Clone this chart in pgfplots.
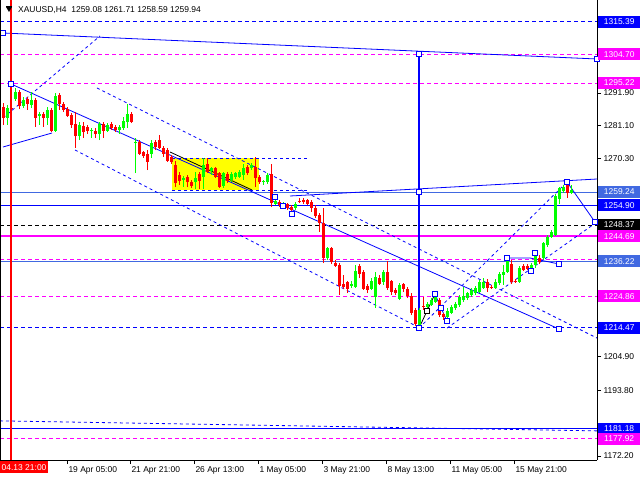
\documentclass[border=0pt]{standalone}
\usepackage{pgfplots}
\pgfplotsset{compat=1.18}
\usepackage{pgfplotstable}
\usepackage{fontspec}
\setmainfont{Liberation Sans}
\definecolor{mtgreen}{RGB}{0,255,0}
\definecolor{mtred}{RGB}{255,0,0}
\definecolor{mtblue}{RGB}{0,0,255}
\definecolor{mtmag}{RGB}{255,0,255}
\definecolor{mtroyal}{RGB}{65,105,225}
\definecolor{mtyellow}{RGB}{255,255,0}

\pgfplotstableread{
x o h l c
7 1283.7 1287.9 1281.4 1286.9
15 1289.9 1293.6 1289.3 1292.2
23 1287.6 1290.6 1286.9 1289.6
31 1287.9 1292.2 1286.9 1289.6
39 1284.3 1285.6 1281.4 1285.0
47 1283.7 1287.3 1281.4 1286.3
55 1279.4 1291.9 1279.0 1290.9
79 1277.7 1282.3 1276.4 1281.4
91 1279.4 1280.4 1277.1 1279.7
99 1278.4 1282.3 1276.4 1281.7
107 1279.4 1282.0 1279.0 1281.4
119 1279.7 1281.4 1278.4 1280.7
123 1280.4 1284.0 1279.7 1282.7
127 1282.3 1288.3 1280.4 1285.0
135 1275.4 1277.1 1265.5 1275.7
151 1271.8 1276.4 1270.5 1275.4
183 1263.2 1264.5 1260.9 1263.9
195 1262.6 1265.8 1260.2 1263.9
203 1264.2 1270.5 1260.2 1268.2
211 1266.2 1267.5 1264.9 1267.2
223 1261.2 1265.8 1260.6 1265.5
231 1263.2 1265.8 1262.6 1265.2
235 1264.2 1265.8 1263.6 1265.5
239 1264.2 1266.5 1263.9 1265.8
243 1264.9 1268.5 1263.2 1267.2
251 1267.2 1268.8 1266.5 1268.2
263 1262.6 1263.2 1261.6 1262.9
267 1262.6 1265.5 1261.9 1264.9
275 1255.3 1256.9 1254.9 1256.3
283 1254.3 1256.0 1254.0 1255.3
295 1254.0 1256.0 1253.3 1255.3
327 1237.5 1241.1 1236.8 1240.8
351 1228.3 1229.9 1227.6 1228.9
355 1227.9 1235.2 1227.6 1233.2
371 1227.3 1230.9 1227.0 1229.9
375 1224.6 1232.9 1221.0 1231.2
383 1229.6 1233.5 1228.6 1232.9
399 1224.0 1229.3 1223.6 1228.6
419 1215.4 1221.0 1214.4 1220.4
427 1221.4 1223.0 1220.7 1222.3
431 1222.0 1224.3 1221.7 1223.7
435 1223.0 1225.9 1222.7 1224.6
447 1218.1 1221.0 1217.4 1220.0
451 1219.4 1222.0 1219.0 1221.4
455 1221.0 1223.0 1220.4 1222.3
459 1222.0 1225.3 1221.4 1224.6
463 1223.7 1227.9 1223.0 1225.0
467 1224.3 1226.3 1223.7 1225.9
471 1225.3 1227.6 1224.6 1227.0
475 1226.0 1228.3 1225.3 1227.6
479 1226.3 1230.2 1226.0 1229.6
483 1227.6 1230.9 1227.3 1229.6
495 1227.6 1230.6 1227.3 1229.6
499 1229.3 1232.9 1228.6 1232.2
503 1231.9 1235.2 1228.6 1232.9
507 1232.9 1237.5 1232.6 1236.5
519 1229.6 1234.9 1229.3 1234.2
531 1232.9 1235.8 1232.6 1235.2
535 1235.2 1239.5 1234.2 1238.5
543 1237.5 1242.8 1236.8 1242.4
547 1241.8 1245.1 1241.1 1244.4
551 1244.4 1246.7 1244.1 1246.1
555 1245.1 1258.6 1244.8 1257.9
559 1256.9 1260.9 1255.3 1260.6
563 1259.6 1261.6 1258.9 1260.9
571 1259.08 1261.71 1258.59 1259.94
}\bull

\pgfplotstableread{
x o h l c
3 1287.3 1288.6 1281.4 1283.7
11 1286.9 1287.9 1285.6 1286.6
19 1292.2 1292.9 1286.6 1287.6
27 1289.9 1290.6 1286.3 1288.3
35 1289.6 1290.3 1280.7 1283.7
43 1285.0 1285.6 1280.7 1283.7
51 1286.3 1286.9 1279.0 1279.4
59 1291.2 1291.9 1286.3 1288.3
63 1288.3 1288.9 1285.6 1286.3
67 1286.6 1287.3 1284.0 1284.3
71 1284.7 1285.3 1280.4 1281.4
75 1281.7 1285.6 1273.8 1277.7
83 1281.0 1282.3 1277.1 1279.0
87 1280.7 1281.4 1278.4 1279.4
95 1279.4 1280.4 1277.1 1278.4
103 1281.7 1282.3 1277.1 1279.4
111 1281.7 1282.3 1279.7 1280.4
115 1280.7 1281.4 1279.0 1279.7
131 1285.0 1285.6 1282.0 1282.3
139 1275.7 1276.4 1271.5 1271.8
143 1272.5 1272.8 1270.5 1271.1
147 1271.8 1273.1 1266.5 1269.2
155 1275.7 1276.4 1273.1 1274.1
159 1276.4 1278.1 1273.4 1273.8
163 1273.8 1274.4 1270.8 1271.8
167 1273.1 1273.8 1269.2 1269.5
171 1270.8 1271.5 1268.5 1269.2
175 1268.2 1269.5 1260.9 1262.2
179 1264.9 1265.8 1261.6 1262.9
187 1264.2 1264.9 1260.9 1262.6
191 1262.6 1263.2 1260.6 1261.2
199 1265.2 1265.8 1260.2 1262.9
207 1268.5 1270.5 1265.5 1265.8
215 1267.2 1267.5 1263.9 1264.2
219 1265.5 1265.8 1260.6 1260.9
227 1265.2 1265.8 1262.2 1262.9
247 1267.5 1268.2 1264.9 1265.5
255 1267.5 1270.8 1260.9 1263.9
259 1264.2 1264.9 1261.9 1262.6
271 1265.2 1268.5 1254.3 1255.6
279 1256.0 1256.6 1254.3 1254.9
287 1255.3 1255.6 1253.3 1254.0
291 1254.3 1254.9 1252.3 1253.3
299 1256.3 1257.3 1255.6 1256.0
303 1256.6 1257.3 1255.3 1256.0
307 1256.6 1256.9 1254.9 1255.3
311 1256.0 1256.6 1252.7 1254.0
315 1254.0 1254.9 1250.7 1251.3
319 1251.7 1252.3 1246.1 1249.0
323 1249.0 1254.0 1235.8 1237.5
331 1240.8 1241.1 1235.5 1236.2
335 1235.8 1236.8 1234.5 1234.9
339 1235.2 1235.8 1225.3 1228.3
343 1228.9 1231.9 1227.3 1227.9
347 1229.6 1229.9 1225.9 1227.3
359 1234.9 1235.5 1230.9 1232.2
363 1232.9 1233.5 1227.0 1227.3
367 1228.3 1228.9 1225.9 1227.0
379 1230.9 1231.9 1228.6 1228.9
387 1232.9 1236.5 1227.0 1227.6
391 1229.9 1230.2 1225.3 1226.3
395 1227.0 1227.6 1225.3 1226.0
403 1228.9 1229.3 1226.3 1227.3
407 1227.3 1227.9 1224.3 1225.0
411 1225.0 1225.9 1218.7 1219.4
415 1220.4 1221.0 1215.1 1215.7
423 1221.7 1224.6 1220.4 1221.4
439 1223.7 1224.3 1217.9 1218.7
443 1219.0 1219.4 1217.1 1218.1
487 1229.6 1230.6 1226.3 1227.6
491 1227.9 1228.6 1227.3 1227.6
511 1235.5 1236.8 1228.9 1229.6
515 1229.9 1230.6 1229.3 1229.6
523 1234.9 1235.5 1233.2 1233.5
527 1234.9 1235.5 1233.5 1233.9
539 1237.5 1238.5 1235.5 1236.2
567 1261.6 1262.9 1257.3 1258.9
}\bear

\tikzset{lbl/.style={anchor=west, inner sep=0pt, minimum width=42bp, minimum height=12bp, text=white, font=\fontsize{8.5}{10}\selectfont}}

\begin{document}
\begin{tikzpicture}
\path[use as bounding box] (0bp,0bp) rectangle (640bp,480bp);
\begin{axis}[
  at={(0bp,20bp)}, anchor=south west,
  width=597bp, height=460bp, scale only axis,
  xmin=0, xmax=597, ymin=1170.9, ymax=1322.56,
  axis x line*=bottom, axis y line*=right,
  axis line style={-, black, line width=0.8bp},
  tick align=outside, major tick length=4bp,
  tick style={black, line width=0.8bp},
  xtick={67,130,194,258,322,386,450,514},
  xticklabels={19 Apr 05:00, 21 Apr 21:00, 26 Apr 13:00, 1 May 05:00, 3 May 21:00, 8 May 13:00, 11 May 05:00, 15 May 21:00},
  xticklabel style={anchor=north west, xshift=-2bp, yshift=1bp, font=\fontsize{8.5}{10}\selectfont},
  ytick={1172.2,1183.0,1193.8,1204.9,1215.7,1226.5,1237.3,1248.7,1259.5,1270.3,1281.1,1291.9,1303.0,1313.6},
  yticklabels={1172.20,,1193.80,1204.90,,,,,,1270.30,1281.10,1291.90,,},
  yticklabel style={font=\fontsize{8.5}{10}\selectfont, xshift=-1bp},
  clip=true,
]
% yellow rectangle
\fill[mtyellow] (axis cs:172,1270.47) rectangle (axis cs:259,1259.92);

% horizontal levels
\addplot[mtblue, dash pattern=on 4bp off 3bp, line width=0.8bp] coordinates {(0,1315.39)(597,1315.39)};
\addplot[mtmag, dash pattern=on 4bp off 3bp, line width=0.8bp] coordinates {(0,1304.70)(597,1304.70)};
\addplot[mtmag, dash pattern=on 4bp off 3bp, line width=0.8bp] coordinates {(0,1295.22)(597,1295.22)};
\addplot[mtroyal, line width=0.8bp] coordinates {(0,1259.24)(597,1259.24)};
\addplot[mtblue, line width=0.8bp] coordinates {(0,1254.90)(597,1254.90)};
\addplot[black, dash pattern=on 4bp off 3bp, line width=0.8bp] coordinates {(0,1248.37)(597,1248.37)};
\addplot[mtmag, line width=2.5bp] coordinates {(0,1244.69)(597,1244.69)};
\addplot[mtmag, dash pattern=on 4bp off 3bp, line width=0.8bp] coordinates {(0,1237.2)(597,1237.2)};
\addplot[mtroyal, line width=0.8bp] coordinates {(0,1236.22)(597,1236.22)};
\addplot[mtmag, dash pattern=on 4bp off 3bp, line width=0.8bp] coordinates {(0,1224.86)(597,1224.86)};
\addplot[mtblue, dash pattern=on 4bp off 3bp, line width=0.8bp] coordinates {(0,1214.47)(597,1214.47)};
\addplot[mtblue, line width=0.8bp] coordinates {(0,1181.18)(597,1181.18)};
\addplot[mtmag, dash pattern=on 4bp off 3bp, line width=0.8bp] coordinates {(0,1177.92)(597,1177.92)};
\addplot[mtblue, dash pattern=on 3bp off 3bp, line width=0.8bp] coordinates {(0,1183.8)(597,1180.5)};

% trend lines
\addplot[mtblue, line width=0.8bp] coordinates {(3,1311.68)(597,1303.11)};
\addplot[mtblue, line width=0.8bp] coordinates {(11,1294.87)(559,1214.09)};
\addplot[mtblue, line width=0.8bp] coordinates {(3,1274.09)(52,1278.71)};
\addplot[mtblue, line width=0.8bp] coordinates {(290,1257.94)(597,1263.54)};
\addplot[mtblue, line width=0.8bp] coordinates {(567,1262.56)(595,1249.37)};
\addplot[black, line width=0.8bp] coordinates {(170,1272.45)(252,1259.92)};
\addplot[mtblue, dash pattern=on 3bp off 3bp, line width=0.8bp] coordinates {(3,1283.66)(100,1310.69)};
\addplot[mtblue, dash pattern=on 3bp off 3bp, line width=0.8bp] coordinates {(172,1270.47)(307,1270.47)};
\addplot[mtblue, dash pattern=on 3bp off 3bp, line width=0.8bp] coordinates {(172,1259.70)(307,1259.70)};
\addplot[mtblue, dash pattern=on 3bp off 3bp, line width=0.8bp] coordinates {(97,1293.55)(597,1211.1)};
\addplot[mtblue, dash pattern=on 3bp off 3bp, line width=0.8bp] coordinates {(75,1273.1)(420,1214.4)};
\addplot[mtblue, dash pattern=on 3bp off 3bp, line width=0.8bp] coordinates {(419,1214.4)(567,1262.56)};
\addplot[mtblue, dash pattern=on 3bp off 3bp, line width=0.8bp] coordinates {(447,1214.4)(597,1249.37)};
% vertical lines
\addplot[draw=mtred, line width=1.2bp] coordinates {(11,1170.9)(11,1322.56)};
\addplot[draw=mtblue, line width=1.2bp] coordinates {(419,1304.7)(419,1214.47)};
% wave markers
\addplot[black, line width=0.8bp] coordinates {(419,1214.4)(427,1220.03)(435,1225.63)};
\addplot[mtblue, line width=0.8bp] coordinates {(435,1225.63)(441,1221.01)(447,1216.73)};
\addplot[mtblue, line width=0.8bp] coordinates {(507,1237.5)(530,1237.5)(559,1235.52)};

% candles: wicks
\addplot[draw=none, mark=none, forget plot, error bars/.cd, y dir=plus, y explicit, error mark=none,
  error bar style={draw=mtgreen, line width=1bp, solid}]
  table[x=x, y=l, y error plus expr={\thisrow{h}-\thisrow{l}}] {\bull};
\addplot[draw=none, mark=none, forget plot, error bars/.cd, y dir=plus, y explicit, error mark=none,
  error bar style={draw=mtred, line width=1bp, solid}]
  table[x=x, y=l, y error plus expr={\thisrow{h}-\thisrow{l}}] {\bear};
% candles: bodies
\addplot[draw=none, mark=none, forget plot, error bars/.cd, y dir=plus, y explicit, error mark=none,
  error bar style={draw=mtgreen, line width=3bp, solid}]
  table[x=x, y=o, y error plus expr={max(\thisrow{c}-\thisrow{o},0.35)}] {\bull};
\addplot[draw=none, mark=none, forget plot, error bars/.cd, y dir=plus, y explicit, error mark=none,
  error bar style={draw=mtred, line width=3bp, solid}]
  table[x=x, y=c, y error plus expr={max(\thisrow{o}-\thisrow{c},0.35)}] {\bear};

% square markers
\addplot[only marks, mark=square*, mark size=2.5bp, mark options={draw=mtblue, fill=white, line width=0.8bp}]
 coordinates {(3,1311.68)(597,1303.11)(11,1294.87)(559,1214.09)(419,1304.7)(419,1259.24)(419,1214.47)
 (435,1225.63)(441,1221.01)(447,1216.73)(507,1237.5)(559,1235.52)(531,1233.21)(535,1239.15)
 (567,1262.56)(595,1249.37)(275,1257.5)(283,1254.7)(292,1252.0)};
\addplot[only marks, mark=square*, mark size=2.5bp, mark options={draw=black, fill=white, line width=0.8bp}]
 coordinates {(427,1220.03)};
\end{axis}

% left border
\draw[black, line width=0.8bp] (0.4bp,20bp) -- (0.4bp,480bp);

% right-side labels
\node[lbl, fill=mtblue] at (598bp,480bp-21.8bp) {1315.39};
\node[lbl, fill=mtmag] at (598bp,480bp-54.2bp) {1304.70};
\node[lbl, fill=mtmag] at (598bp,480bp-82.9bp) {1295.22};
\node[lbl, fill=mtroyal] at (598bp,480bp-192.0bp) {1259.24};
\node[lbl, fill=mtblue] at (598bp,480bp-205.2bp) {1254.90};
\node[lbl, fill=black] at (598bp,480bp-225.0bp) {1248.37};
\node[lbl, fill=mtmag] at (598bp,480bp-236.1bp) {1244.69};
\node[lbl, fill=mtroyal] at (598bp,480bp-261.3bp) {1236.22};
\node[lbl, fill=mtmag] at (598bp,480bp-296.3bp) {1224.86};
\node[lbl, fill=mtblue] at (598bp,480bp-327.8bp) {1214.47};
\node[lbl, fill=mtblue] at (598bp,480bp-428.8bp) {1181.18};
\node[lbl, fill=mtmag] at (598bp,480bp-438.7bp) {1177.92};

% bottom red time label
\node[anchor=north west, inner sep=1.5bp, fill=mtred, text=white, font=\fontsize{8.5}{10}\selectfont, minimum height=12bp] at (0bp,19bp) {04.13 21:00};

% title
\fill[black] (6bp,480bp-7bp) -- (12bp,480bp-7bp) -- (9bp,480bp-12bp) -- cycle;
\draw[black, line width=0.8bp] (6bp,480bp-6bp) -- (12bp,480bp-6bp);
\node[anchor=west, inner sep=0pt, font=\fontsize{8.5}{10}\selectfont] at (18bp,480bp-10bp) {XAUUSD,H4\ \ 1259.08 1261.71 1258.59 1259.94};
\end{tikzpicture}
\end{document}
